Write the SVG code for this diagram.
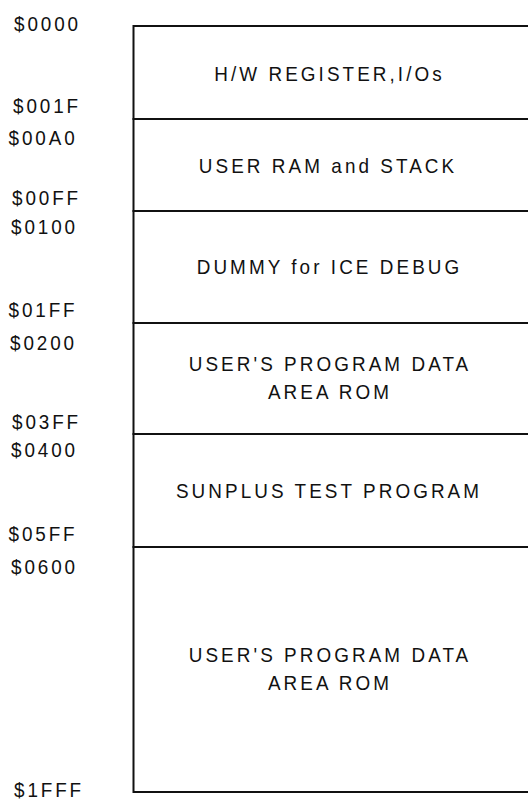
<svg xmlns="http://www.w3.org/2000/svg" width="528" height="802" viewBox="0 0 528 802">
  <style>
    .bg { fill: #ffffff; }
    .cell { fill: #ffffff; stroke: #111111; stroke-width: 2; }
    .lbl { font-family: "Liberation Sans", Arial, sans-serif; font-size: 21px; letter-spacing: 3.4px; fill: #111111; text-anchor: middle; }
    .addr { font-family: "Liberation Sans", Arial, sans-serif; font-size: 21px; letter-spacing: 3.2px; fill: #111111; }
  </style>
  <rect class="bg" x="0" y="0" width="528" height="802"/>

  <g id="hw-register">
    <rect class="cell" x="133.5" y="26" width="400" height="93"/>
    <text class="lbl" transform="translate(329.5 80.5) scale(0.9 1)">H/W REGISTER,I/Os</text>
  </g>
  <g id="user-ram">
    <rect class="cell" x="133.5" y="119" width="400" height="92"/>
    <text class="lbl" transform="translate(328 173) scale(0.9 1)">USER RAM and STACK</text>
  </g>
  <g id="dummy-ice">
    <rect class="cell" x="133.5" y="211" width="400" height="112"/>
    <text class="lbl" transform="translate(329.5 274) scale(0.9 1)">DUMMY for ICE DEBUG</text>
  </g>
  <g id="user-rom-1">
    <rect class="cell" x="133.5" y="323" width="400" height="111"/>
    <text class="lbl" transform="translate(330 371) scale(0.9 1)">USER'S PROGRAM DATA</text>
    <text class="lbl" transform="translate(330 399) scale(0.9 1)">AREA ROM</text>
  </g>
  <g id="sunplus-test">
    <rect class="cell" x="133.5" y="434" width="400" height="113"/>
    <text class="lbl" transform="translate(329 498) scale(0.9 1)">SUNPLUS TEST PROGRAM</text>
  </g>
  <g id="user-rom-2">
    <rect class="cell" x="133.5" y="547" width="400" height="245"/>
    <text class="lbl" transform="translate(330 662) scale(0.9 1)">USER'S PROGRAM DATA</text>
    <text class="lbl" transform="translate(330 690) scale(0.9 1)">AREA ROM</text>
  </g>

  <g id="connectors"></g>

  <g id="addresses">
    <text class="addr" transform="translate(14 30.5) scale(0.9 1)">$0000</text>
    <text class="addr" transform="translate(13 113) scale(0.9 1)">$001F</text>
    <text class="addr" transform="translate(8.5 145) scale(0.9 1)">$00A0</text>
    <text class="addr" transform="translate(12 205) scale(0.9 1)">$00FF</text>
    <text class="addr" transform="translate(11 234) scale(0.9 1)">$0100</text>
    <text class="addr" transform="translate(8.5 317) scale(0.9 1)">$01FF</text>
    <text class="addr" transform="translate(10 350) scale(0.9 1)">$0200</text>
    <text class="addr" transform="translate(12 429) scale(0.9 1)">$03FF</text>
    <text class="addr" transform="translate(11 457) scale(0.9 1)">$0400</text>
    <text class="addr" transform="translate(8.5 541) scale(0.9 1)">$05FF</text>
    <text class="addr" transform="translate(11 574) scale(0.9 1)">$0600</text>
    <text class="addr" transform="translate(14 797) scale(0.9 1)">$1FFF</text>
  </g>
</svg>
